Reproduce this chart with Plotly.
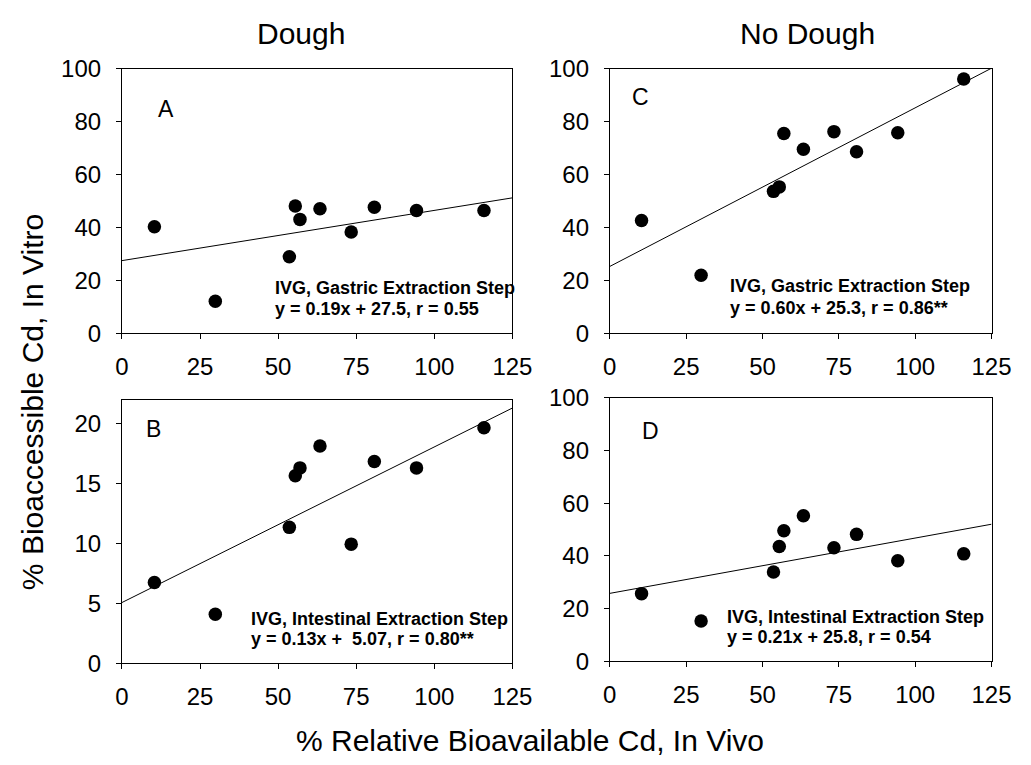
import plotly.graph_objects as go

# ---- data ----
invivo = [10.4, 29.9, 53.6, 55.5, 57.0, 63.4, 73.4, 80.8, 94.3, 115.9]
dough_gastric = [40.3, 12.1, 29.0, 48.2, 43.1, 47.1, 38.3, 47.7, 46.5, 46.5]
dough_intestinal = [6.74, 4.1, 11.35, 15.67, 16.32, 18.14, 9.95, 16.85, 16.32, 19.67]
nodough_gastric = [42.7, 22.0, 53.7, 55.4, 75.6, 69.6, 76.3, 68.7, 75.9, 96.2]
nodough_intestinal = [25.7, 15.3, 33.9, 43.6, 49.6, 55.3, 43.1, 48.2, 38.2, 40.8]

panel_letters = ["A", "C", "B", "D"]
slopes = [0.19, 0.60, 0.13, 0.21]
intercepts = [27.5, 25.3, 5.07, 25.8]
step_labels = ["IVG, Gastric Extraction Step", "IVG, Gastric Extraction Step",
               "IVG, Intestinal Extraction Step", "IVG, Intestinal Extraction Step"]
eq_labels = ["y = 0.19x + 27.5, r = 0.55", "y = 0.60x + 25.3, r = 0.86**",
             "y = 0.13x +  5.07, r = 0.80**", "y = 0.21x + 25.8, r = 0.54"]
col_titles = ["Dough", "No Dough"]
x_title = "% Relative Bioavailable Cd, In Vivo"
y_title = "% Bioaccessible Cd, In Vitro"
x_range = [0, 125]
y_ranges = [[0, 100], [0, 100], [0, 22], [0, 100]]
y_dticks = [20, 20, 5, 20]
x_ticks = [0, 25, 50, 75, 100, 125]

series = [dough_gastric, nodough_gastric, dough_intestinal, nodough_intestinal]

# ---- layout geometry (pixels) ----
W, H = 1031, 765
FONT = "Liberation Sans, Arial, sans-serif"
x_px = [(118, 519), (619, 1011), (118, 519), (619, 1011)]
y_px = [(57, 331), (57, 331), (400, 673), (398, 671)]
x_doms = [[a / W, b / W] for a, b in x_px]
y_doms = [[1 - b / H, 1 - a / H] for a, b in y_px]
letter_pos = [(14.0, 84.8), (10.1, 89.4), (10.2, 19.6), (13.3, 87.6)]
text_pos = [(48.5, 17.0, 9.1), (38.7, 17.8, 9.5), (40.8, 3.66, 1.99), (37.6, 16.7, 9.1)]

fig = go.Figure()
annotations = []
layout_axes = {}
for i in range(4):
    sfx = "" if i == 0 else str(i + 1)
    xa, ya = "x" + sfx, "y" + sfx
    fig.add_trace(go.Scatter(
        x=invivo, y=series[i], mode="markers", xaxis=xa, yaxis=ya,
        marker=dict(color="black", size=13.5), showlegend=False))
    fx = [x_range[0], x_range[1]]
    fy = [slopes[i] * v + intercepts[i] for v in fx]
    fig.add_trace(go.Scatter(
        x=fx, y=fy, mode="lines", xaxis=xa, yaxis=ya,
        line=dict(color="black", width=1), showlegend=False))

    common = dict(showline=True, mirror=True, linecolor="black", linewidth=1,
                  ticks="outside", ticklen=5, tickcolor="black", tickwidth=1,
                  showgrid=False, zeroline=False,
                  tickfont=dict(family=FONT, size=24, color="black"))
    layout_axes["xaxis" + sfx] = dict(common, domain=x_doms[i], range=x_range,
                                      tickvals=x_ticks, anchor=ya,
                                      ticklabelstandoff=7)
    layout_axes["yaxis" + sfx] = dict(common, domain=y_doms[i], range=y_ranges[i],
                                      dtick=y_dticks[i], tick0=0, anchor=xa,
                                      ticklabelstandoff=10)

    lx, ly = letter_pos[i]
    annotations.append(dict(x=lx, y=ly, xref=xa, yref=ya, text=panel_letters[i],
                            showarrow=False, xanchor="center", yanchor="middle",
                            font=dict(family=FONT, size=23, color="black")))
    tx, ty1, ty2 = text_pos[i]
    annotations.append(dict(x=tx, y=ty1, xref=xa, yref=ya, text="<b>" + step_labels[i] + "</b>",
                            showarrow=False, xanchor="left", yanchor="middle",
                            font=dict(family=FONT, size=18, color="black")))
    annotations.append(dict(x=tx, y=ty2, xref=xa, yref=ya, text="<b>" + eq_labels[i] + "</b>",
                            showarrow=False, xanchor="left", yanchor="middle",
                            font=dict(family=FONT, size=18, color="black")))

annotations.append(dict(x=302 / W, y=1 - 20 / H, xref="paper", yref="paper", text=col_titles[0],
                        showarrow=False, xanchor="center", yanchor="middle",
                        font=dict(family=FONT, size=30, color="black")))
annotations.append(dict(x=822 / W, y=1 - 20 / H, xref="paper", yref="paper", text=col_titles[1],
                        showarrow=False, xanchor="center", yanchor="middle",
                        font=dict(family=FONT, size=30, color="black")))
annotations.append(dict(x=537 / W, y=1 - 753 / H, xref="paper", yref="paper", text=x_title,
                        showarrow=False, xanchor="center", yanchor="middle",
                        font=dict(family=FONT, size=30, color="black")))
annotations.append(dict(x=26 / W, y=1 - 402 / H, xref="paper", yref="paper", text=y_title,
                        showarrow=False, xanchor="center", yanchor="middle", textangle=-90,
                        font=dict(family=FONT, size=30, color="black")))

fig.update_layout(width=W, height=H, margin=dict(l=0, r=0, t=0, b=0),
                  paper_bgcolor="white", plot_bgcolor="white",
                  annotations=annotations, **layout_axes)
fig.write_html("out.html")
